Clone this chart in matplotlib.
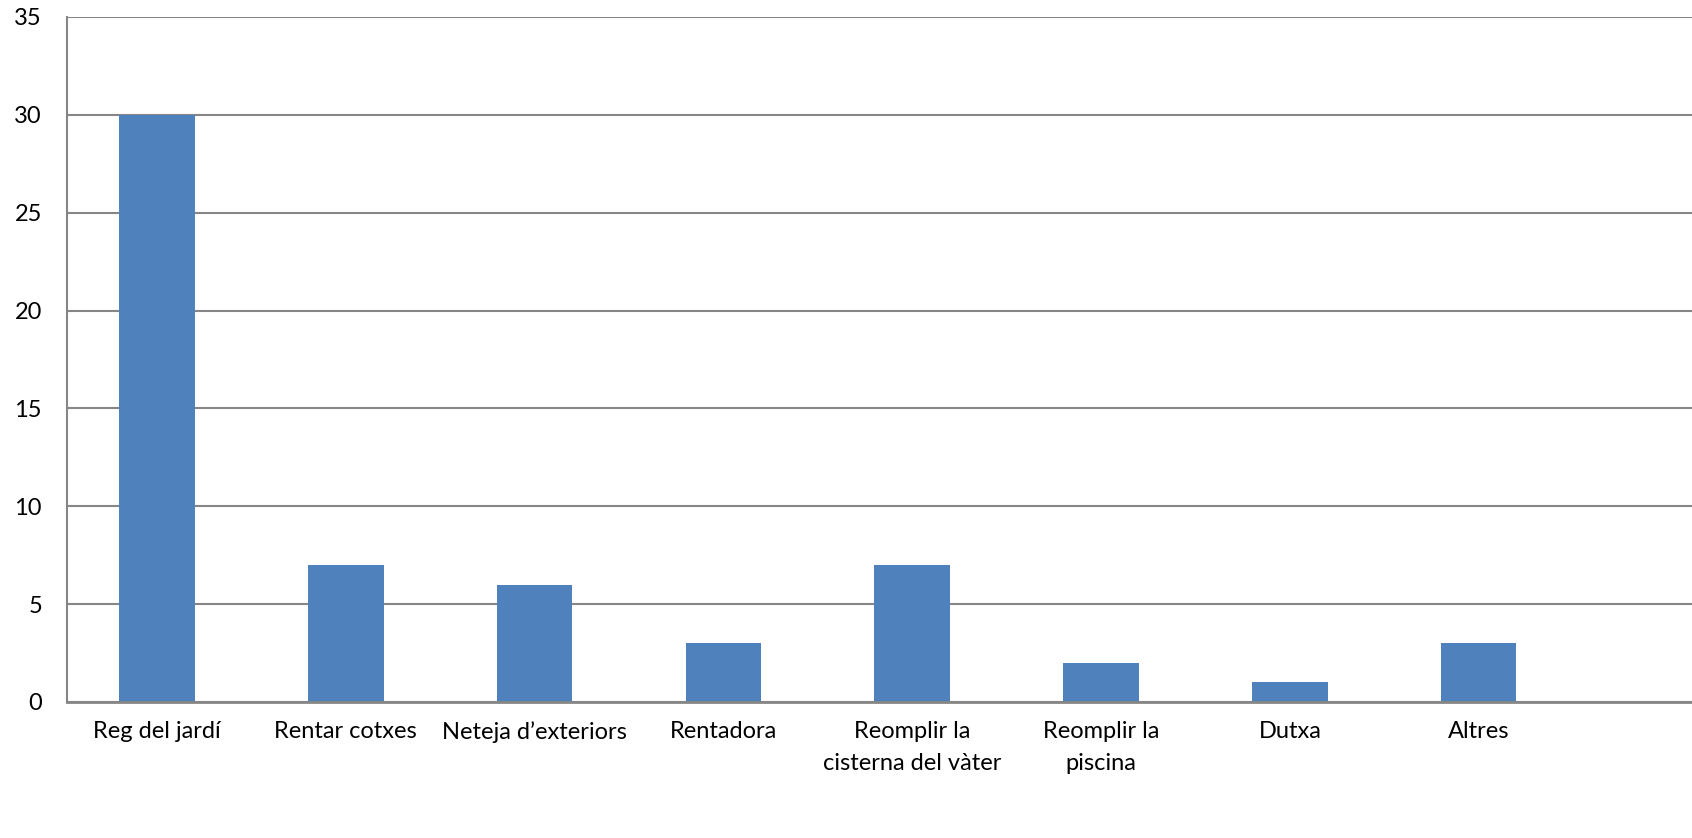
import matplotlib.pyplot as plt
import numpy as np

plt.rcParams["font.family"] = ["Lato", "DejaVu Sans"]

categories = [
    "Reg del jardí",
    "Rentar cotxes",
    "Neteja d\u2019exteriors",
    "Rentadora",
    "Reomplir la\ncisterna del vàter",
    "Reomplir la\npiscina",
    "Dutxa",
    "Altres",
]
values = [30, 7, 6, 3, 7, 2, 1, 3]
yticks = [0, 5, 10, 15, 20, 25, 30, 35]

fig = plt.figure(figsize=(16.92, 8.38), dpi=100)
ax = fig.add_axes([67 / 1692, 1 - 702 / 838, 1 - 67 / 1692, (702 - 17) / 838])

x = np.arange(len(categories))
ax.bar(x, values, width=0.4, color="#4F81BD", zorder=3)

grid_color = "#868686"
for y in yticks:
    ax.axhline(y, color=grid_color, linewidth=1.5, zorder=1)

ax.set_ylim(0, 35)
ax.set_xlim(-0.477, 8.13)
ax.set_yticks(yticks)
ax.set_xticks(x)
ax.set_xticklabels(categories, linespacing=1.6)
ax.tick_params(axis="both", length=0, labelsize=17, colors="black")
ax.tick_params(axis="y", pad=18)
ax.tick_params(axis="x", pad=14)

for side in ["top", "right"]:
    ax.spines[side].set_visible(False)
ax.spines["left"].set_color(grid_color)
ax.spines["left"].set_linewidth(1.5)
ax.spines["bottom"].set_color(grid_color)
ax.spines["bottom"].set_linewidth(2)
ax.spines["bottom"].set_zorder(4)

fig.savefig("out.png", dpi=100)
